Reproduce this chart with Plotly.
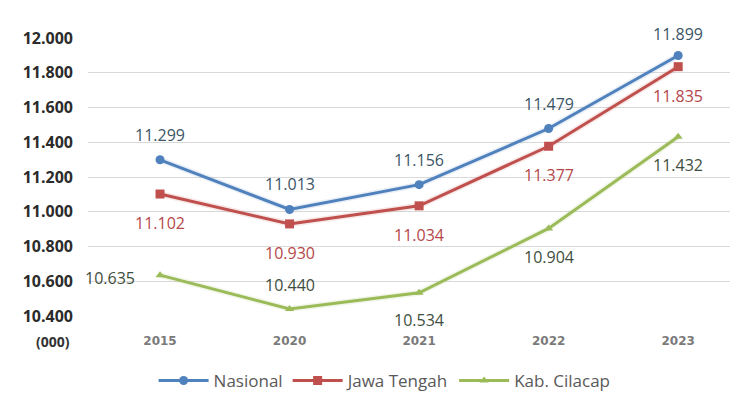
import plotly.graph_objects as go

years = ["2015", "2020", "2021", "2022", "2023"]
nasional = [11299, 11013, 11156, 11479, 11899]
jawa_tengah = [11102, 10930, 11034, 11377, 11835]
cilacap = [10635, 10440, 10534, 10904, 11432]

font_family = "Open Sans, Liberation Sans, Arial, sans-serif"

def fmt(v):
    return f"{v:,}".replace(",", ".")

series = [
    # name, values, line colour, label colour, marker symbol, label offsets (xshift, yshift)
    ("Nasional", nasional, "#4F81BD", "#3B5566", "circle",
     [(0, 25), (0, 25), (0, 25), (0, 25), (0, 22)]),
    ("Jawa Tengah", jawa_tengah, "#C0504D", "#B5474A", "square",
     [(0, -29), (0, -29), (0, -29), (0, -29), (0, -29)]),
    ("Kab. Cilacap", cilacap, "#9BBB59", "#3E4E3E", "triangle-up",
     [(-50, -3), (0, 24), (0, -27), (0, -29), (0, -28)]),
]

fig = go.Figure()

for name, vals, color, lab_color, symbol, offsets in series:
    # soft halo under each line
    fig.add_trace(go.Scatter(
        x=years, y=vals, mode="lines", showlegend=False, hoverinfo="skip",
        line=dict(color=color, width=6), opacity=0.12,
    ))
    fig.add_trace(go.Scatter(
        x=years, y=vals, name=name, mode="lines+markers",
        line=dict(color=color, width=3),
        marker=dict(symbol=symbol, size=9 if symbol != "triangle-up" else 8, color=color),
        cliponaxis=False,
    ))
    # value labels, positioned by category index
    for i, (v, (dx, dy)) in enumerate(zip(vals, offsets)):
        fig.add_annotation(
            x=i, y=v, xref="x", yref="y", text=fmt(v), showarrow=False,
            xshift=dx, yshift=dy, xanchor="center", yanchor="middle",
            font=dict(color=lab_color, size=16, family=font_family),
        )

fig.add_annotation(
    x=0, xref="paper", xanchor="right", xshift=-16,
    y=10400, yref="y", yshift=-25, yanchor="middle",
    text="<b>(000)</b>", showarrow=False,
    font=dict(color="#333333", size=14, family=font_family),
)

fig.update_layout(
    width=740, height=393,
    margin=dict(l=88, r=10, t=38, b=77, autoexpand=False),
    paper_bgcolor="white", plot_bgcolor="white",
    separators=",.",
    font=dict(family=font_family),
    xaxis=dict(
        type="category", range=[-0.556, 4.40],
        showgrid=False, showline=False, zeroline=False,
        tickfont=dict(color="#7A7A7A", size=12, family="DejaVu Sans", weight="bold"),
        ticks="", ticklabelstandoff=16,
    ),
    yaxis=dict(
        range=[10400, 12000], dtick=200, tick0=10400,
        showgrid=True, gridcolor="#D9D9D9", gridwidth=1,
        zeroline=False, showline=False,
        tickformat=",d", ticks="", ticklabelstandoff=14,
        tickfont=dict(color="#2B2B2B", size=16, family=font_family, weight="bold"),
    ),
    legend=dict(
        orientation="h", x=0.462, xanchor="center",
        yref="container", y=12 / 393, yanchor="middle",
        font=dict(color="#595959", size=17, family=font_family),
        itemwidth=50, traceorder="normal",
    ),
    showlegend=True,
)

fig.write_html("out.html")
